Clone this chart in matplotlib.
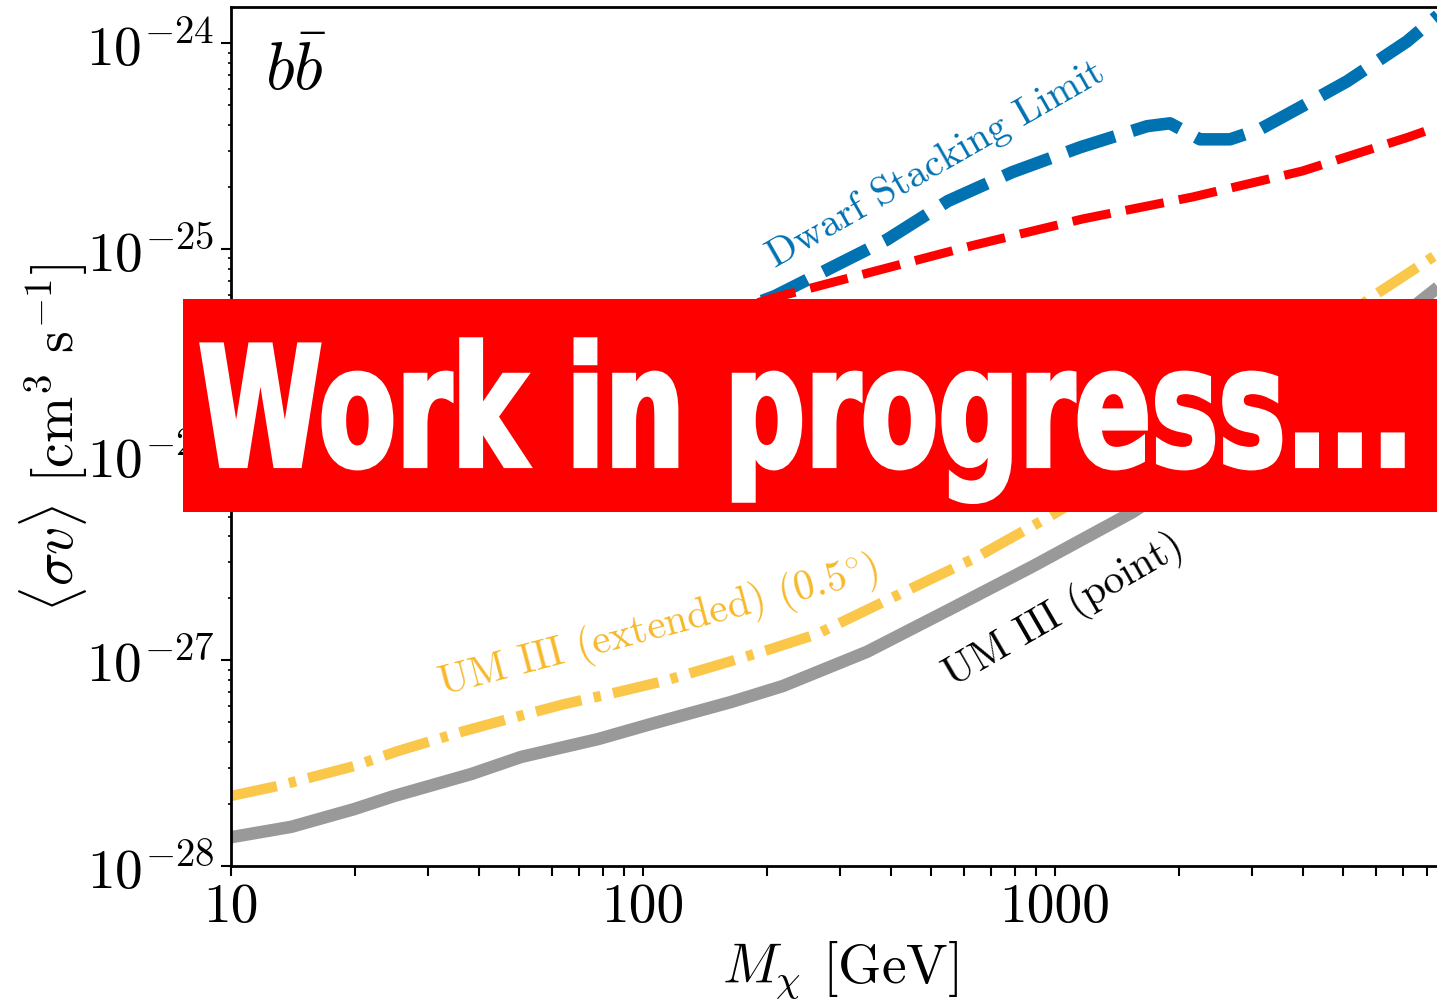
import matplotlib
matplotlib.use('Agg')
import matplotlib.pyplot as plt
import matplotlib.patheffects as pe
from matplotlib.patches import Rectangle
from matplotlib.ticker import FixedLocator, LogLocator
from matplotlib.transforms import Affine2D

plt.rcParams['font.family'] = 'serif'
plt.rcParams['font.serif'] = ['cmr10']
plt.rcParams['mathtext.fontset'] = 'cm'
plt.rcParams['axes.formatter.use_mathtext'] = True

# dwarf stacking limit (bb channel)
mass_dwarf = [10, 20, 50, 100, 150, 209, 391, 550, 787, 1151, 1673, 1901, 2249, 2660, 3146, 3981, 5117, 7150, 8450, 10000]
sv_dwarf = [1.5e-26, 1.8e-26, 2.6e-26, 3.6e-26, 4.6e-26, 5.9e-26, 1.11e-25, 1.71e-25, 2.36e-25, 3.12e-25,
            3.95e-25, 4.08e-25, 3.41e-25, 3.41e-25, 3.82e-25, 4.94e-25, 6.53e-25, 1.02e-24, 1.35e-24, 1.8e-24]

# red dashed limit
mass_red = [10, 30, 100, 207, 350, 632, 1170, 2163, 3981, 7190, 8450, 10000]
sv_red = [1.4e-26, 2.0e-26, 3.7e-26, 5.77e-26, 7.62e-26, 1.04e-25, 1.40e-25, 1.79e-25, 2.39e-25, 3.49e-25, 3.91e-25, 4.4e-25]

# UM III, point source
mass_point = [10, 14, 19.9, 24.9, 38.3, 50.6, 77.8, 104.5, 163.6, 218.6, 349.8, 556, 885, 1545, 3000, 8450, 10000]
sv_point = [1.38e-28, 1.55e-28, 1.89e-28, 2.19e-28, 2.80e-28, 3.39e-28, 4.14e-28, 4.90e-28, 6.27e-28, 7.50e-28,
            1.10e-27, 1.77e-27, 2.87e-27, 5.26e-27, 1.25e-26, 6.44e-26, 8.4e-26]

# UM III, extended (0.5 deg)
mass_ext = [10, 13, 19.9, 25.4, 36.8, 47, 64.3, 86.9, 112.4, 163.6, 203, 264, 420, 647, 973, 2000, 3981, 5910, 8450, 10000]
sv_ext = [2.19e-28, 2.45e-28, 3.06e-28, 3.62e-28, 4.53e-28, 5.18e-28, 6.12e-28, 7.01e-28, 7.93e-28, 9.91e-28,
          1.13e-27, 1.34e-27, 2.10e-27, 3.18e-27, 5.02e-27, 1.2e-26, 3.2e-26, 5.89e-26, 9.4e-26, 1.17e-25]

xticks = [10, 100, 1000]
xticklabels = ['10', '100', '1000']


class SqueezeStroke(pe.AbstractPathEffect):
    """Squash glyphs horizontally about x0 (display px) and draw them with a fat outline."""

    def __init__(self, sx, x0, linewidth, color):
        super().__init__()
        self.sx = sx
        self.x0 = x0
        self.linewidth = linewidth
        self.color = color

    def draw_path(self, renderer, gc, tpath, affine, rgbFace=None):
        squeeze = Affine2D().translate(-self.x0, 0).scale(self.sx, 1).translate(self.x0, 0)
        gc0 = renderer.new_gc()
        gc0.copy_properties(gc)
        gc0.set_linewidth(self.linewidth)
        gc0.set_foreground(self.color)
        gc0.set_joinstyle('miter')
        renderer.draw_path(gc0, tpath, affine + squeeze, rgbFace)
        gc0.restore()


fig = plt.figure(figsize=(14.37, 10.04), dpi=100)
ax = fig.add_axes([231 / 1437, 137 / 1004, 1236 / 1437, 859 / 1004])

ax.plot(mass_dwarf, sv_dwarf, color='#0072B2', lw=9, dashes=(4.0, 1.45))
ax.plot(mass_red, sv_red, color='red', lw=6.5, dashes=(4.3, 1.7))
ax.plot(mass_point, sv_point, color='#999999', lw=9, solid_capstyle='butt')
ax.plot(mass_ext, sv_ext, color='#FBC74A', lw=7.5, dashes=(4.5, 1.2, 0.7, 1.2))

ax.set_xscale('log')
ax.set_yscale('log')
ax.set_xlim(10, 1e4)
ax.set_ylim(1e-28, 1.5e-24)

ax.xaxis.set_major_locator(FixedLocator(xticks))
ax.set_xticklabels(xticklabels)
ax.xaxis.set_minor_locator(LogLocator(base=10, subs=range(2, 10)))

ax.tick_params(which='major', direction='out', length=7, width=1.5, labelsize=40, pad=5)
ax.tick_params(axis='x', which='minor', direction='out', length=7, width=1.5)
ax.tick_params(axis='y', which='minor', direction='out', length=2.5, width=1.2)
for sp in ax.spines.values():
    sp.set_linewidth(2)

ax.set_xlabel(r'$M_\chi$ [GeV]', fontsize=40, labelpad=4)
ax.xaxis.set_label_coords(0.4927, -0.085, transform=ax.transAxes)
ax.xaxis.label.set_va('top')
ax.set_ylabel(r'$\langle \sigma v \rangle$ [cm$^3$ s$^{-1}$]', fontsize=40, labelpad=-3)

ax.text(0.0275, 0.9045, r'$b\bar{b}$', transform=ax.transAxes, fontsize=48, va='baseline')

ax.text(209, 8.15e-26, 'Dwarf Stacking Limit', color='#0072B2', fontsize=29,
        rotation=29.7, rotation_mode='anchor', ha='left', va='baseline')
ax.text(32.4, 6.86e-28, r'UM III (extended) $(0.5^{\circ})$', color='#F7B82A', fontsize=30,
        rotation=14.8, rotation_mode='anchor', ha='left', va='baseline')
ax.text(565, 7.5e-28, 'UM III (point)', color='black', fontsize=30,
        rotation=30, rotation_mode='anchor', ha='left', va='baseline')

# banner on top of everything
fig.add_artist(Rectangle((183 / 1437, 491 / 1004), 1.0, 213 / 1004,
                         transform=fig.transFigure, facecolor='red', edgecolor='none', zorder=5))
banner_x = 806 / 1437
fig.text(banner_x, 537 / 1004, 'Work in progress...', color='white', fontsize=120,
         fontweight='bold', family='DejaVu Sans', ha='center', va='baseline', zorder=6,
         path_effects=[SqueezeStroke(0.677, banner_x * fig.bbox.width, 3, 'white')])

fig.savefig('out.png', dpi=100)
